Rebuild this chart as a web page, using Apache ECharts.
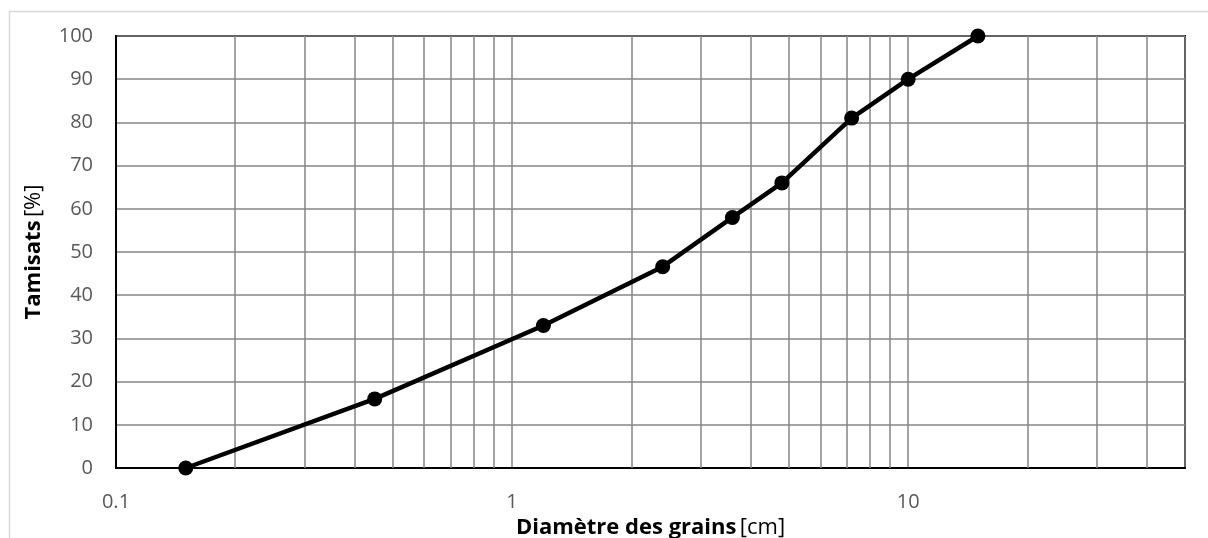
<!DOCTYPE html>
<html>
<head>
<meta charset="utf-8">
<script src="https://cdn.jsdelivr.net/npm/echarts@6/dist/echarts.min.js"></script>
<style>
  html, body { margin: 0; padding: 0; background: #fff; }
  #main { width: 1208px; height: 538px; }
</style>
</head>
<body>
<div id="main"></div>
<script>
// grain size curve
var diametres = [0.15, 0.45, 1.2, 2.4, 3.6, 4.8, 7.2, 10, 15];   // cm
var tamisats = [0, 16, 33, 46.6, 58, 66, 81, 90, 100];          // %
var minorGrid = [0.2, 0.3, 0.4, 0.5, 0.6, 0.7, 0.8, 0.9,
                 2, 3, 4, 5, 6, 7, 8, 9,
                 20, 30, 40];
var xMin = 0.1, xMax = 50;
var yTicks = [0, 100, 10]; // min, max, interval

var chart = echarts.init(document.getElementById('main'));
var font = '"Open Sans", sans-serif';
var grey = '#868686';

var option = {
  animation: false,
  backgroundColor: '#fff',
  graphic: [{
    type: 'rect',
    shape: { x: 9.5, y: 11.5, width: 1220, height: 560 },
    style: { fill: 'none', stroke: '#d9d9d9', lineWidth: 1.5 },
    silent: true
  }],
  grid: {
    left: 116, right: 23, top: 36, bottom: 70,
    outerBoundsMode: 'none',
    containLabel: false,
    show: true, borderColor: '#000', borderWidth: 2, backgroundColor: 'transparent'
  },
  xAxis: {
    type: 'log',
    logBase: 10,
    min: xMin,
    max: xMax,
    name: '{b|Diamètre des grains} {r|[cm]}',
    nameLocation: 'middle',
    nameGap: 40,
    nameTextStyle: {
      rich: {
        b: { fontFamily: font, fontSize: 22, fontWeight: 'bold', color: '#000' },
        r: { fontFamily: font, fontSize: 22, color: '#000' }
      }
    },
    axisLine: { show: true, lineStyle: { color: '#000', width: 2 } },
    axisTick: { show: false },
    axisLabel: { fontFamily: font, fontSize: 20, color: '#595959', margin: 24, showMaxLabel: false },
    splitLine: { show: true, lineStyle: { color: grey, width: 1.5 } }
  },
  yAxis: {
    type: 'value',
    min: yTicks[0],
    max: yTicks[1],
    interval: yTicks[2],
    name: '{b|Tamisats} {r|[%]}',
    nameLocation: 'middle',
    nameGap: 71,
    nameTextStyle: {
      rich: {
        b: { fontFamily: font, fontSize: 22, fontWeight: 'bold', color: '#000' },
        r: { fontFamily: font, fontSize: 22, color: '#000' }
      }
    },
    axisLine: { show: true, lineStyle: { color: '#000', width: 2 } },
    axisTick: { show: false },
    axisLabel: { fontFamily: font, fontSize: 20, color: '#595959', margin: 23 },
    splitLine: { show: true, lineStyle: { color: grey, width: 1.5 } }
  },
  series: [
    {
      type: 'line',
      silent: true,
      data: [],
      markLine: {
        silent: true,
        symbol: ['none', 'none'],
        label: { show: false },
        lineStyle: { color: grey, width: 1.5, type: 'solid' },
        data: minorGrid.map(function (v) { return { xAxis: v }; })
      }
    },
    {
      type: 'line',
      data: diametres.map(function (d, i) { return [d, tamisats[i]]; }),
      lineStyle: { color: '#000', width: 4.5 },
      itemStyle: { color: '#000' },
      symbol: 'circle',
      symbolSize: 15,
      z: 5
    }
  ]
};
chart.setOption(option);
</script>
</body>
</html>
